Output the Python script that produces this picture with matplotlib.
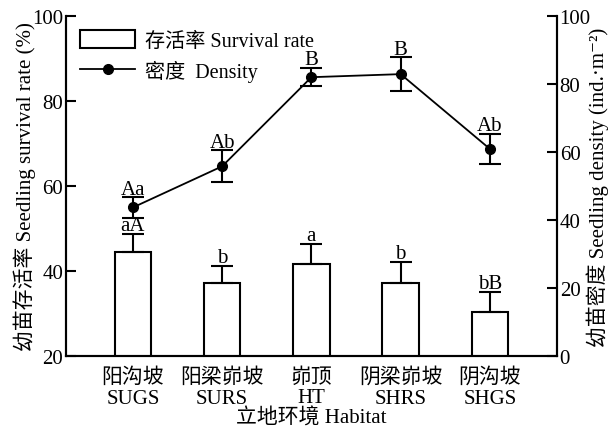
import matplotlib.pyplot as plt
import numpy as np

plt.rcParams['font.family'] = ['Liberation Serif', 'DejaVu Serif', 'Noto Sans CJK SC']
plt.rcParams['font.size'] = 15

# data
sites_cn = ['阳沟坡', '阳梁峁坡', '峁顶', '阴梁峁坡', '阴沟坡']
sites_en = ['SUGS', 'SURS', 'HT', 'SHRS', 'SHGS']
survival = [44.6, 37.1, 41.6, 37.1, 30.4]
survival_err = [4.1, 4.1, 4.8, 5.1, 4.7]
survival_lab = ['aA', 'b', 'a', 'b', 'bB']
density = [43.7, 55.8, 82.0, 82.9, 60.9]
density_err = [3.0, 4.7, 2.7, 5.0, 4.5]
density_lab = ['Aa', 'Ab', 'B', 'B', 'Ab']

x = np.arange(len(sites_cn))

fig = plt.figure(figsize=(6.16, 4.35), dpi=100)
ax = fig.add_axes([0.107, 0.179, 0.797, 0.782])
ax2 = ax.twinx()

# survival bars, upper error only
bars = ax.bar(x, survival, width=0.41, bottom=0, color='white',
              edgecolor='black', linewidth=1.5)
ax.errorbar(x, survival, yerr=[np.zeros(len(x)), survival_err], fmt='none',
            ecolor='black', elinewidth=1.5, capsize=8, capthick=1.5)
for xi, v, e, t in zip(x, survival, survival_err, survival_lab):
    ax.annotate(t, (xi, v + e), xytext=(0, -1), textcoords='offset points',
                ha='center', va='bottom', fontsize=15)

# density line
ln, = ax2.plot(x, density, color='black', marker='o', markersize=7,
               linewidth=1.3)
ax2.errorbar(x, density, yerr=density_err, fmt='none', ecolor='black',
             elinewidth=1.5, capsize=8, capthick=1.5)
for xi, v, e, t in zip(x, density, density_err, density_lab):
    ax2.annotate(t, (xi, v + e), xytext=(0, -1), textcoords='offset points',
                 ha='center', va='bottom', fontsize=15)

ax.set_xlim(-0.75, 4.75)
ax.set_ylim(20, 100)
ax.set_yticks([20, 40, 60, 80, 100])
ax2.set_ylim(0, 100)
ax2.set_yticks([0, 20, 40, 60, 80, 100])

ax.set_xticks(x)
ax.set_xticklabels([c + '\n' + e for c, e in zip(sites_cn, sites_en)],
                   linespacing=1.12)
ax.tick_params(axis='x', length=0, pad=8)
ax.tick_params(axis='y', direction='in', length=7, width=1.5, pad=2)
ax2.tick_params(axis='y', direction='in', length=7, width=1.5, pad=2)

for a in (ax, ax2):
    a.spines['top'].set_visible(False)
    for s in ('left', 'right', 'bottom'):
        a.spines[s].set_linewidth(1.5)

ax.set_xlabel('立地环境 Habitat', labelpad=0)
ax.set_ylabel('幼苗存活率 Seedling survival rate (%)', labelpad=-3)
ax2.set_ylabel('幼苗密度 Seedling density (ind.·m⁻²)', labelpad=-3)

ax2.legend([bars, ln], ['存活率 Survival rate', '密度  Density'],
           loc='upper left', bbox_to_anchor=(0.0, 1.0), frameon=False,
           handlelength=2.75, handleheight=1.0, handletextpad=0.5,
           labelspacing=0.45, borderaxespad=0.3, fontsize=14.5)

fig.savefig('out.png', dpi=100)
